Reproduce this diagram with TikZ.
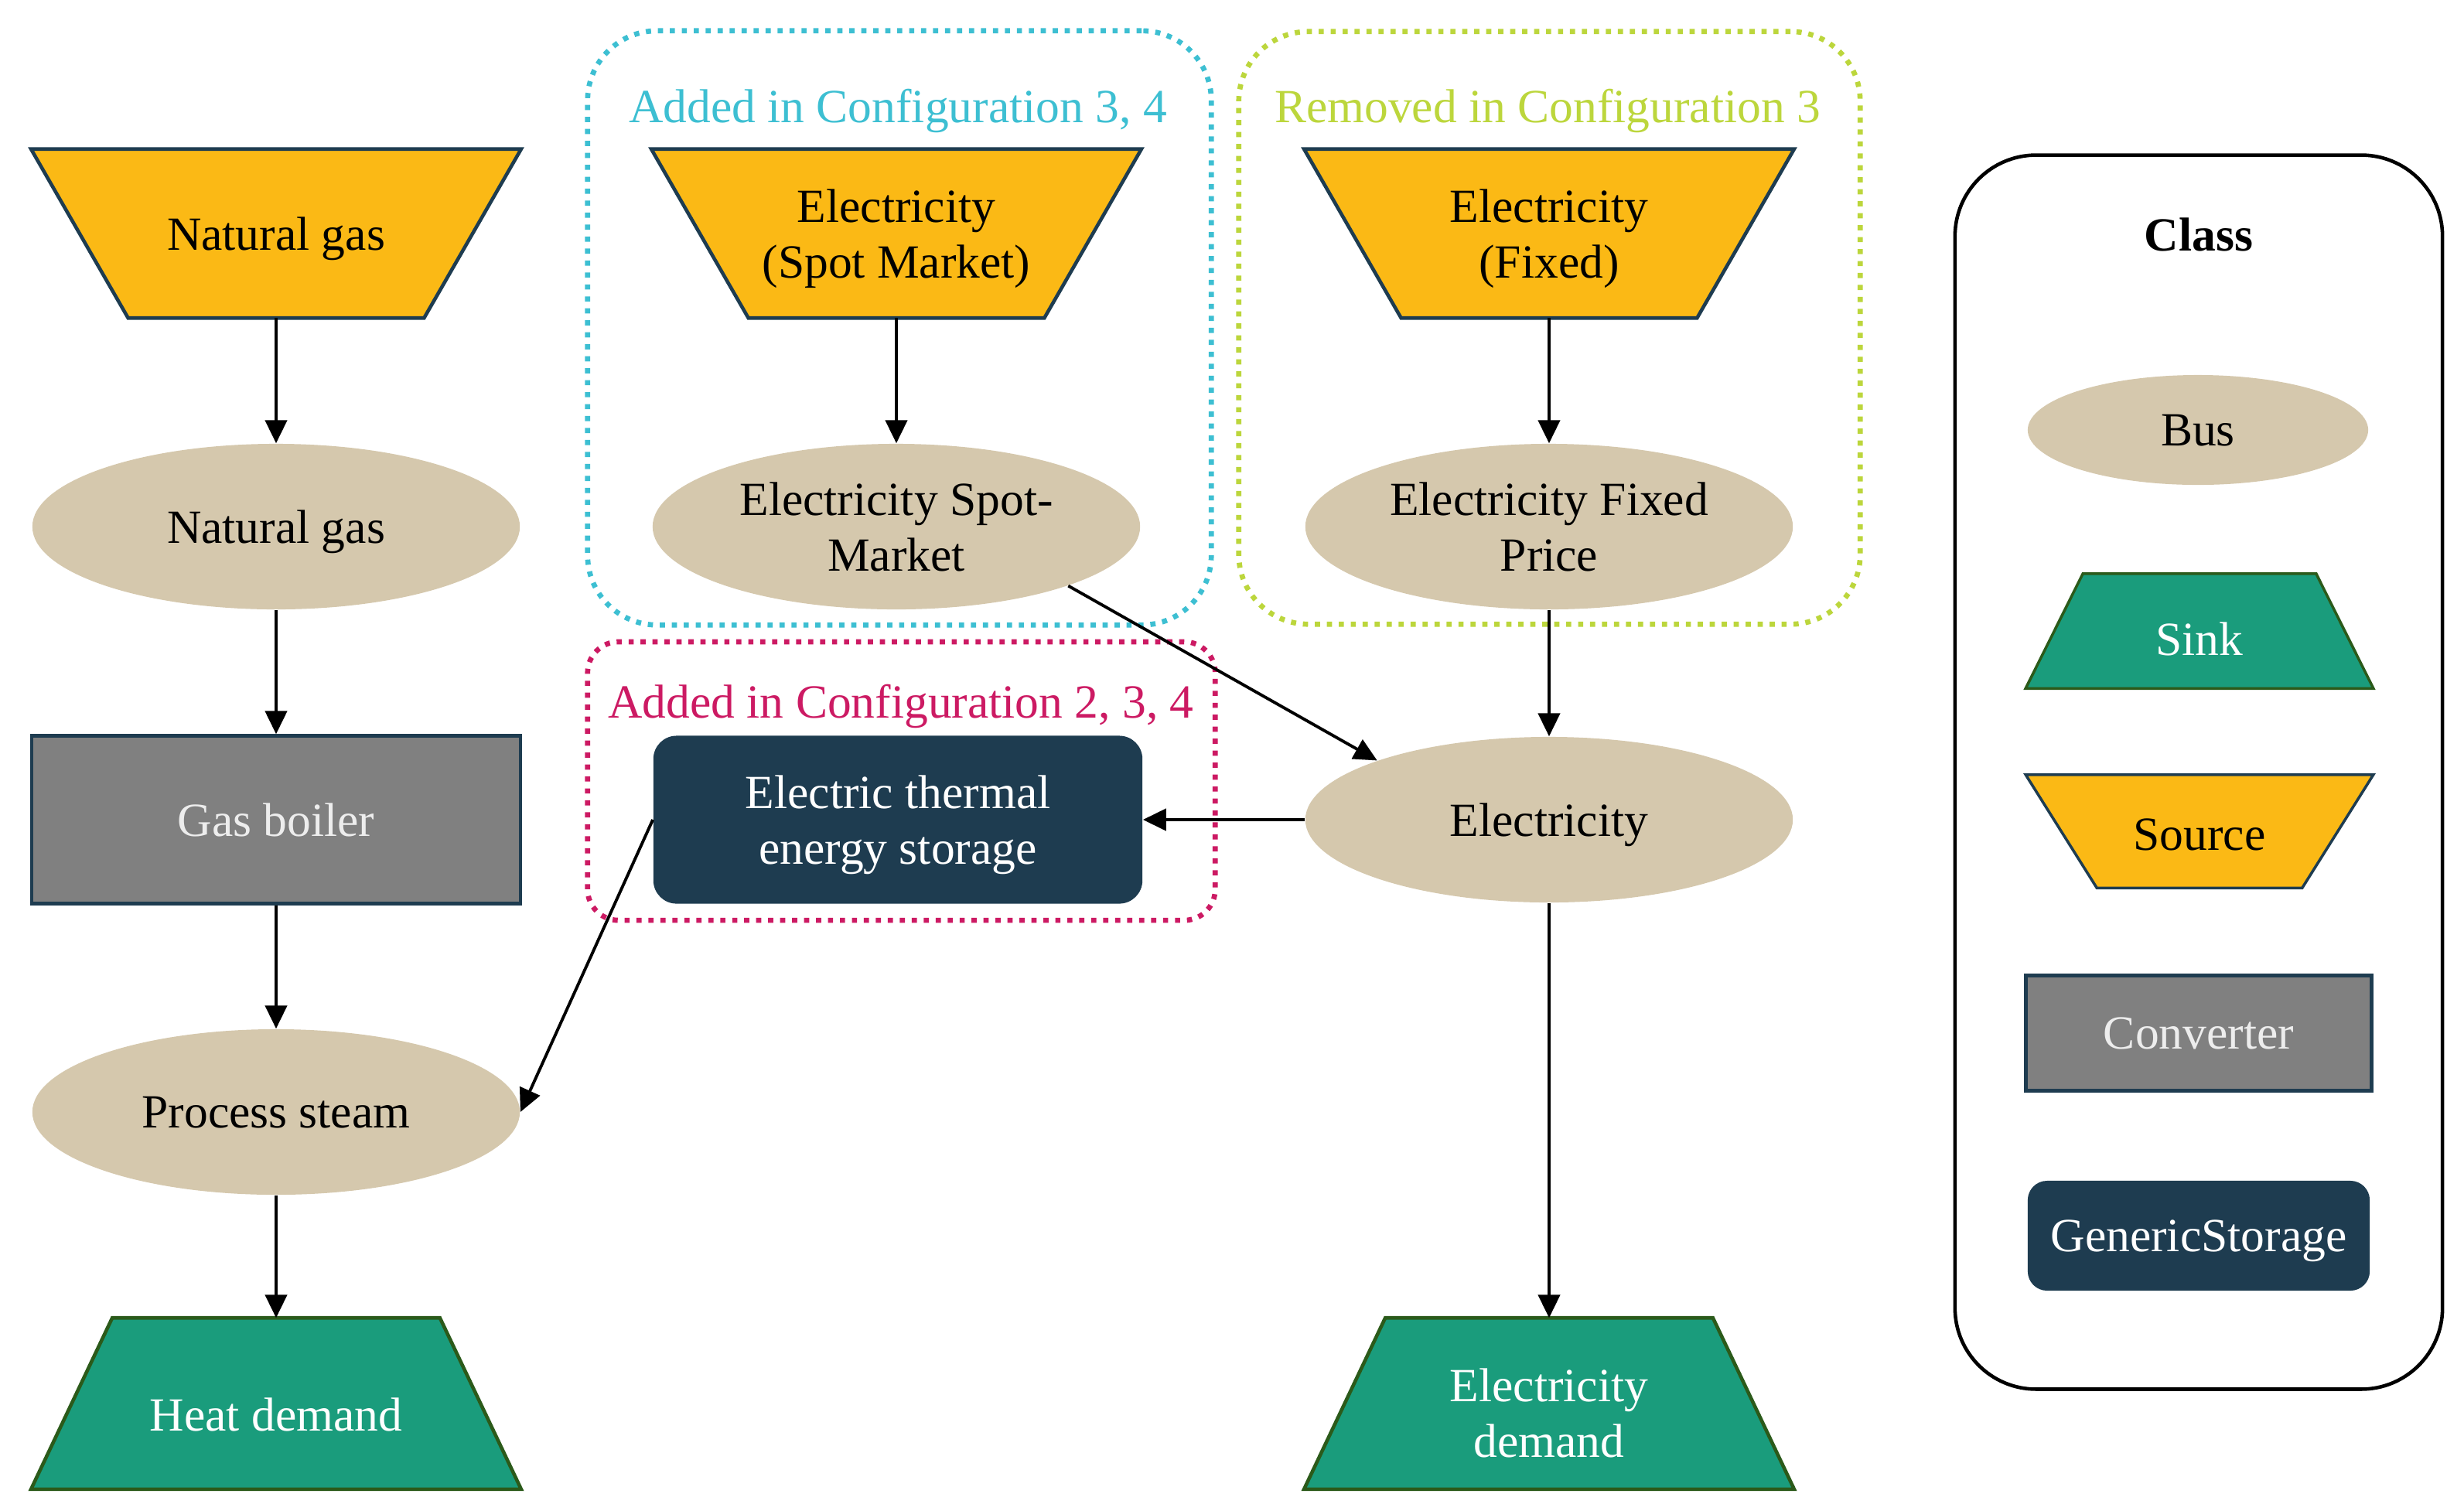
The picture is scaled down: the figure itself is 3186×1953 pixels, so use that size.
\documentclass[tikz,border=0pt]{standalone}
\usepackage{fontspec}
\setmainfont{Liberation Serif}
\usetikzlibrary{shapes.geometric,arrows.meta,backgrounds}
\definecolor{srcfill}{HTML}{FBB915}
\definecolor{busfill}{HTML}{D5C8AD}
\definecolor{sinkfill}{HTML}{1A9C7C}
\definecolor{sinkline}{HTML}{2B5A1A}
\definecolor{convfill}{HTML}{808080}
\definecolor{navy}{HTML}{1E3C50}
\definecolor{cyanbox}{HTML}{3DBFD2}
\definecolor{greenbox}{HTML}{BCD63C}
\definecolor{magbox}{HTML}{CC1A63}
\begin{document}
\begin{tikzpicture}[x=0.01cm,y=-0.01cm,
  every node/.style={font=\fontsize{17.5}{20.5}\selectfont, align=center, inner sep=0pt, text depth=-1.6pt},
  busnode/.style={ellipse, fill=busfill, minimum width=6.3cm, minimum height=2.14cm},
  srcnode/.style={rectangle, minimum width=6.32cm, minimum height=2.17cm},
  sinknode/.style={rectangle, minimum width=6.32cm, minimum height=2.2cm},
  sinktext/.style={text=white, yshift=-0.14cm},
  convnode/.style={rectangle, fill=convfill, draw=navy, line width=1.2pt, minimum width=6.32cm, minimum height=2.17cm, text=white!93!black},
  storenode/.style={rectangle, rounded corners=0.3cm, fill=navy, minimum width=6.32cm, minimum height=2.17cm, text=white},
  groupbox/.style={rectangle, line width=1.9pt, dash pattern=on 1.9pt off 2.5pt},
  flow/.style={-{Triangle[length=8.5pt,width=8pt]}, line width=1.1pt},
  srcpoly/.style={fill=srcfill, draw=navy, line width=1.3pt},
  sinkpoly/.style={fill=sinkfill, draw=sinkline, line width=1.3pt},
]
\path[use as bounding box] (0,0) rectangle (3186,1953);

% group frames
\node[groupbox, draw=cyanbox, rounded corners=0.9cm, minimum width=8.06cm, minimum height=7.68cm] (gcyan) at (1163,424) {};
\node[groupbox, draw=greenbox, rounded corners=0.9cm, minimum width=8.03cm, minimum height=7.66cm] (ggreen) at (2003.5,424) {};
\node[groupbox, draw=magbox, rounded corners=0.4cm, minimum width=8.11cm, minimum height=3.6cm] (gmag) at (1165.5,1010) {};
\node[text=cyanbox] (lcyan) at (1161,137) {Added in Configuration 3, 4};
\node[text=greenbox] (lgreen) at (2001,137) {Removed in Configuration 3};
\node[text=magbox] (lmag) at (1165,907) {Added in Configuration 2, 3, 4};

% column 1
\node[srcnode] (ngsrc) at (357,302) {Natural gas};
\node[busnode] (ngbus) at (357,681) {Natural gas};
\node[convnode] (boiler) at (357,1060) {Gas boiler};
\node[busnode] (steam) at (357,1438) {Process steam};
\node[sinknode, label={[name=heattxt, sinktext]center:Heat demand}] (heat) at (357,1815) {};

% column 2
\node[srcnode] (spotsrc) at (1159,302) {Electricity\\(Spot Market)};
\node[busnode] (spotbus) at (1159,681) {Electricity Spot-\\Market};
\node[storenode] (store) at (1161,1060) {Electric thermal\\energy storage};

% column 3
\node[srcnode] (fixsrc) at (2003,302) {Electricity\\(Fixed)};
\node[busnode] (fixbus) at (2003,681) {Electricity Fixed\\Price};
\node[busnode] (elec) at (2003,1060) {Electricity};
\node[sinknode, label={[name=eldemtxt, sinktext, yshift=0.02cm]center:Electricity\\demand}] (eldem) at (2003,1815) {};

% legend
\node[draw=black, line width=1.3pt, rounded corners=1.05cm, minimum width=6.3cm, minimum height=15.95cm] (legend) at (2843,998.5) {};
\node[font=\fontsize{17.5}{20.5}\selectfont\bfseries, text depth=0pt] (lclass) at (2843,303) {Class};
\node[ellipse, fill=busfill, minimum width=4.4cm, minimum height=1.42cm] (lbus) at (2842,556) {Bus};
\node[rectangle, minimum width=4.48cm, minimum height=1.47cm, label={[name=lsinktxt, text=white, yshift=-0.1cm]center:Sink}] (lsink) at (2844,816) {};
\node[rectangle, minimum width=4.48cm, minimum height=1.45cm, label={[name=lsrctxt, yshift=-0.04cm]center:Source}] (lsrc) at (2844,1075) {};
\node[rectangle, fill=convfill, draw=navy, line width=1.5pt, minimum width=4.47cm, minimum height=1.49cm, text=white!93!black] (lconv) at (2843,1336) {Converter};
\node[rectangle, rounded corners=0.25cm, fill=navy, minimum width=4.42cm, minimum height=1.42cm, text=white] (lstore) at (2843,1598) {GenericStorage};

% trapezoid outlines behind the texts
\begin{scope}[on background layer]
  \foreach \n in {ngsrc,spotsrc,fixsrc}
    \filldraw[srcpoly] (\n.north west) -- (\n.north east) -- ([xshift=-1.255cm]\n.south east) -- ([xshift=1.255cm]\n.south west) -- cycle;
  \foreach \n in {heat,eldem}
    \filldraw[sinkpoly] ([xshift=1.05cm]\n.north west) -- ([xshift=-1.05cm]\n.north east) -- (\n.south east) -- (\n.south west) -- cycle;
  \filldraw[sinkpoly, line width=1pt] ([xshift=0.74cm]lsink.north west) -- ([xshift=-0.74cm]lsink.north east) -- (lsink.south east) -- (lsink.south west) -- cycle;
  \filldraw[srcpoly, line width=1pt] (lsrc.north west) -- (lsrc.north east) -- ([xshift=-0.92cm]lsrc.south east) -- ([xshift=0.92cm]lsrc.south west) -- cycle;
\end{scope}

% connectors
\draw[flow] (ngsrc) -- (ngbus);
\draw[flow] (ngbus) -- (boiler);
\draw[flow] (boiler) -- (steam);
\draw[flow] (steam) -- (heat);
\draw[flow] (spotsrc) -- (spotbus);
\draw[flow] (fixsrc) -- (fixbus);
\draw[flow] (fixbus) -- (elec);
\draw[flow] (spotbus.-19) -- (elec.161);
\draw[flow] (elec) -- (store);
\draw[flow] (store.west) -- (steam.east);
\draw[flow] (elec) -- (eldem);
\end{tikzpicture}
\end{document}
